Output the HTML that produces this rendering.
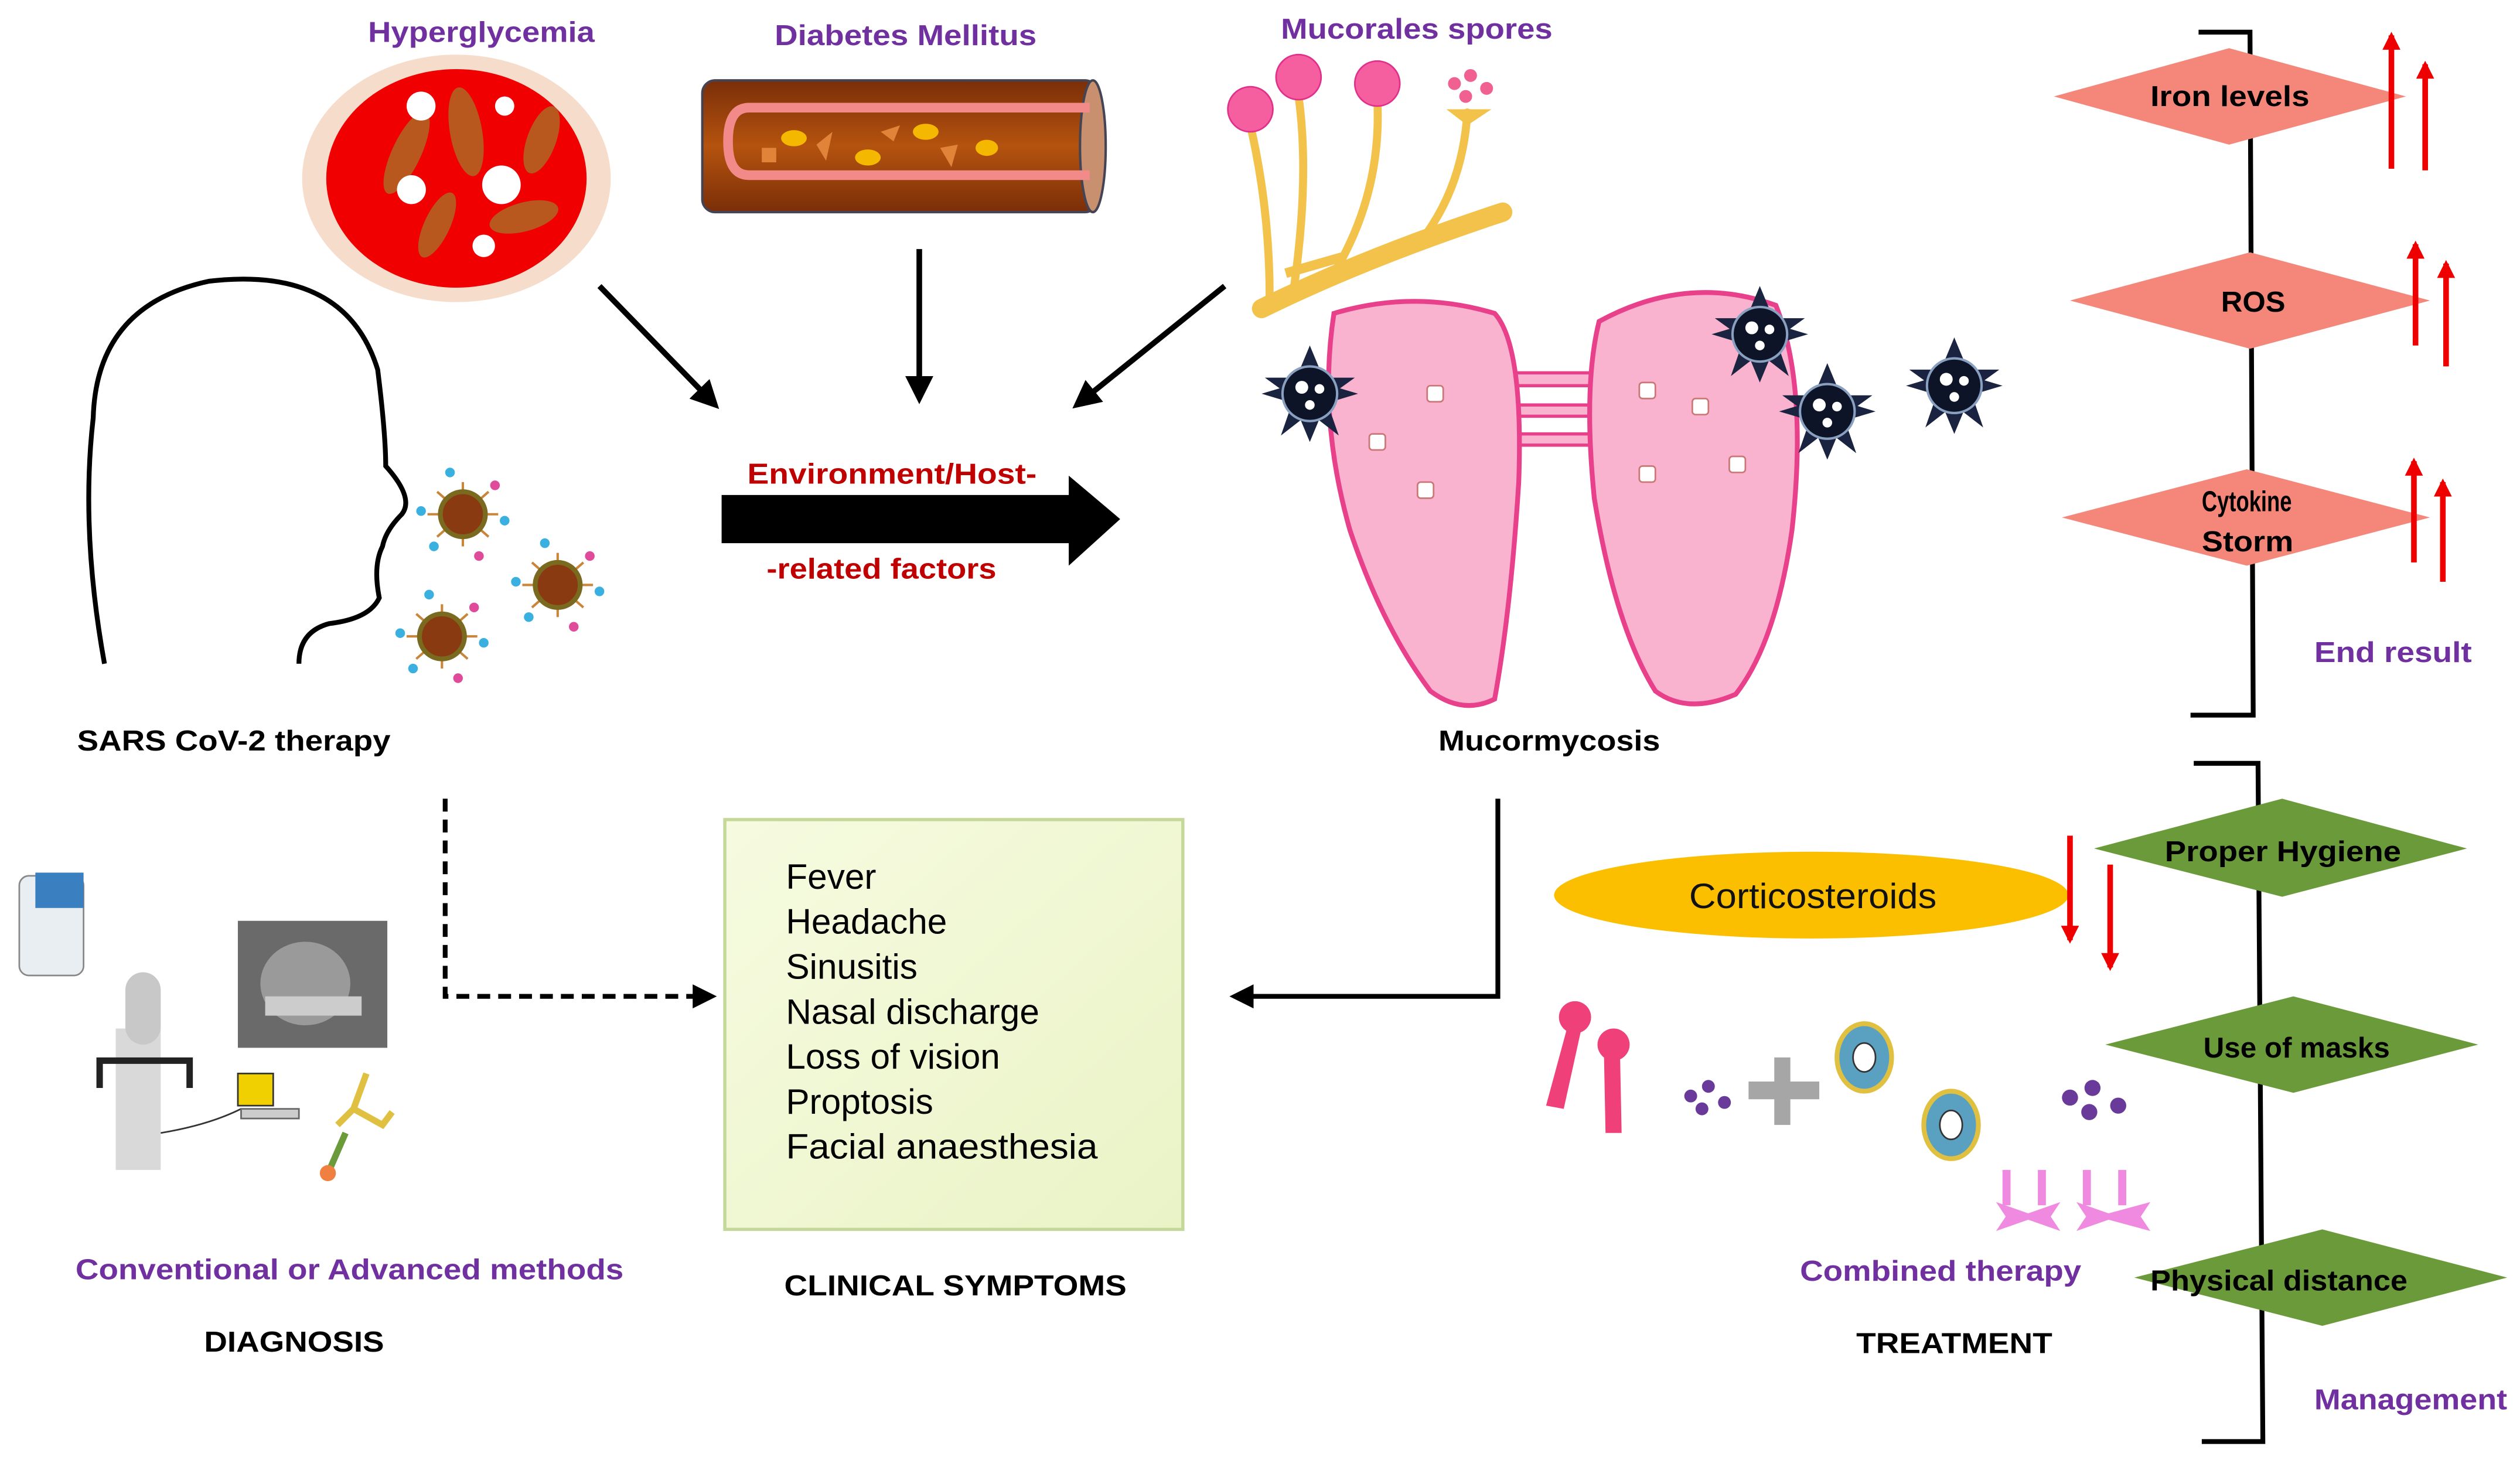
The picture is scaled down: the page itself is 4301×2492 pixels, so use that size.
<!DOCTYPE html>
<html><head><meta charset="utf-8"><style>
html,body{margin:0;padding:0;background:#fff;}
svg{display:block;}
text{font-family:"Liberation Sans",sans-serif;font-weight:bold;}
.n{font-weight:normal;}
</style></head><body>
<svg width="4301" height="2492" viewBox="0 0 1568 908.5" xmlns="http://www.w3.org/2000/svg">
<defs>
<marker id="ah" viewBox="0 0 10 10" refX="8" refY="5" markerWidth="5" markerHeight="5" orient="auto"><path d="M0,0 L10,5 L0,10 Z" fill="#000"/></marker>
<marker id="rh" viewBox="0 0 10 10" refX="8" refY="5" markerWidth="3.2" markerHeight="4" orient="auto"><path d="M0,0 L10,5 L0,10 Z" fill="#e00"/></marker>
<linearGradient id="ves" x1="0" y1="0" x2="0" y2="1"><stop offset="0" stop-color="#7a2e08"/><stop offset="0.5" stop-color="#b5530f"/><stop offset="1" stop-color="#7a2e08"/></linearGradient>
<linearGradient id="box" x1="0" y1="0" x2="1" y2="1"><stop offset="0" stop-color="#f6fbe0"/><stop offset="1" stop-color="#eaf3c6"/></linearGradient>
<g id="virus">
<g stroke="#c9853a" stroke-width="1.5">
<line x1="-22" y1="0" x2="22" y2="0"/><line x1="0" y1="-20" x2="0" y2="20"/><line x1="-16" y1="-14" x2="16" y2="14"/><line x1="-16" y1="14" x2="16" y2="-14"/>
</g>
<circle r="14" fill="#8a3a10" stroke="#7a6a20" stroke-width="3"/>
<circle cx="-26" cy="-2" r="3" fill="#3ab0e0"/><circle cx="26" cy="4" r="3" fill="#3ab0e0"/><circle cx="-8" cy="-26" r="3" fill="#3ab0e0"/><circle cx="10" cy="26" r="3" fill="#e04a9a"/><circle cx="20" cy="-18" r="3" fill="#e04a9a"/><circle cx="-18" cy="20" r="3" fill="#3ab0e0"/>
</g>
<g id="spore">
<path d="M0,-30 L6,-10 L28,-10 L10,3 L18,26 L0,12 L-18,26 L-10,3 L-28,-10 L-6,-10 Z" fill="#1a2340"/>
<path d="M-30,0 L-10,-6 L0,-30 L10,-6 L30,0 L10,6 L0,30 L-10,6 Z" fill="#1a2340"/>
<circle r="17" fill="#0e1428" stroke="#8aa0c0" stroke-width="1.5"/>
<circle cx="-5" cy="-4" r="4" fill="#fff"/><circle cx="6" cy="-3" r="3" fill="#fff"/><circle cx="0" cy="7" r="3" fill="#fff"/>
</g>
</defs>

<!-- Hyperglycemia -->
<text x="229" y="26" font-size="18" fill="#7030a0" textLength="141" lengthAdjust="spacingAndGlyphs">Hyperglycemia</text>
<ellipse cx="284" cy="111" rx="96" ry="77" fill="#f6dccb"/>
<ellipse cx="284" cy="111" rx="81" ry="68" fill="#f00000"/>
<g fill="#b8581e">
<ellipse cx="253" cy="95" rx="9" ry="28" transform="rotate(25 253 95)"/>
<ellipse cx="290" cy="82" rx="10" ry="28" transform="rotate(-10 290 82)"/>
<ellipse cx="337" cy="87" rx="9" ry="22" transform="rotate(20 337 87)"/>
<ellipse cx="272" cy="140" rx="8" ry="22" transform="rotate(25 272 140)"/>
<ellipse cx="326" cy="135" rx="22" ry="9" transform="rotate(-15 326 135)"/>
</g>
<g fill="#fff">
<circle cx="262" cy="66" r="9"/><circle cx="314" cy="66" r="6"/><circle cx="256" cy="118" r="9"/><circle cx="312" cy="115" r="12"/><circle cx="301" cy="153" r="7"/>
</g>

<!-- Diabetes -->
<text x="482" y="28" font-size="18" fill="#7030a0" textLength="163" lengthAdjust="spacingAndGlyphs">Diabetes Mellitus</text>
<rect x="437" y="50" width="246" height="82" rx="8" fill="url(#ves)" stroke="#445" stroke-width="1.5"/>
<ellipse cx="680" cy="91" rx="8" ry="41" fill="#c99070" stroke="#445" stroke-width="1.5"/>
<path d="M678,67 L466,67 Q453,67 453,88 Q453,109 466,109 L678,109" fill="none" stroke="#f38a8a" stroke-width="6"/>
<g fill="#f5b800"><ellipse cx="494" cy="86" rx="8" ry="5"/><ellipse cx="540" cy="98" rx="8" ry="5"/><ellipse cx="576" cy="82" rx="8" ry="5"/><ellipse cx="614" cy="92" rx="7" ry="5"/></g>
<g fill="#e2833a"><rect x="474" y="92" width="9" height="9"/><path d="M508,90 L518,82 L514,100 Z"/><path d="M548,82 L560,78 L556,88 Z"/><path d="M585,92 L596,90 L592,104 Z"/></g>

<!-- Mucorales spores -->
<text x="797" y="24" font-size="18" fill="#7030a0" textLength="169" lengthAdjust="spacingAndGlyphs">Mucorales spores</text>
<g fill="none" stroke="#f3c24a" stroke-width="5" stroke-linecap="round">
<path d="M790,185 Q790,130 778,78"/><path d="M805,180 Q815,110 808,60"/><path d="M830,170 Q860,120 857,62"/><path d="M880,155 Q910,120 913,70"/>
</g>
<path d="M785,192 Q850,160 935,132" stroke="#f3c24a" stroke-width="12" fill="none" stroke-linecap="round"/>
<path d="M800,170 L835,160" stroke="#f3c24a" stroke-width="6"/>
<g fill="#f55fa0" stroke="#e0308a"><circle cx="778" cy="68" r="14"/><circle cx="808" cy="48" r="14"/><circle cx="857" cy="52" r="14"/></g>
<g fill="#f06090"><circle cx="905" cy="52" r="4"/><circle cx="915" cy="47" r="4"/><circle cx="925" cy="55" r="4"/><circle cx="912" cy="60" r="4"/></g>
<path d="M900,68 L928,68 L913,78 Z" fill="#f3c24a"/>

<!-- arrows to env -->
<g stroke="#000" stroke-width="3.5" marker-end="url(#ah)">
<line x1="373" y1="178" x2="445" y2="252"/>
<line x1="572" y1="155" x2="572" y2="248"/>
<line x1="762" y1="178" x2="670" y2="252"/>
</g>
<text x="465" y="301" font-size="18" fill="#c00000" textLength="180" lengthAdjust="spacingAndGlyphs">Environment/Host-</text>
<path d="M449,308 L665,308 L665,296 L697,323 L665,352 L665,338 L449,338 Z" fill="#000"/>
<text x="477" y="360" font-size="18" fill="#c00000" textLength="143" lengthAdjust="spacingAndGlyphs">-related factors</text>

<!-- head -->
<path d="M65,413 Q50,330 58,260 Q60,190 130,175 Q215,165 235,230 Q240,270 240,290 Q258,310 250,320 Q240,330 238,340 Q232,352 236,372 Q230,385 205,388 Q186,393 186,413" fill="none" stroke="#000" stroke-width="3"/>
<use href="#virus" x="288" y="320"/>
<use href="#virus" x="347" y="364"/>
<use href="#virus" x="275" y="396"/>
<text x="48" y="467" font-size="18" fill="#000" textLength="195" lengthAdjust="spacingAndGlyphs">SARS CoV-2 therapy</text>

<!-- lungs -->
<rect x="940" y="232" width="52" height="8" fill="#f9b3cf" stroke="#e8408a" stroke-width="2"/>
<rect x="940" y="252" width="52" height="7" fill="#f9b3cf" stroke="#e8408a" stroke-width="2"/>
<rect x="940" y="270" width="52" height="7" fill="#f9b3cf" stroke="#e8408a" stroke-width="2"/>
<path d="M830,195 Q880,180 930,195 Q948,215 945,300 Q940,380 930,435 Q910,445 890,430 Q860,390 840,330 Q820,260 830,195 Z" fill="#f9b3cf" stroke="#e8408a" stroke-width="3"/>
<path d="M995,200 Q1050,170 1105,190 Q1125,240 1115,330 Q1105,400 1080,432 Q1050,445 1030,430 Q1005,390 992,310 Q985,240 995,200 Z" fill="#f9b3cf" stroke="#e8408a" stroke-width="3"/>
<g fill="#fff" stroke="#c77" stroke-width="1">
<rect x="888" y="240" width="10" height="10" rx="2"/><rect x="852" y="270" width="10" height="10" rx="2"/><rect x="882" y="300" width="10" height="10" rx="2"/>
<rect x="1020" y="238" width="10" height="10" rx="2"/><rect x="1053" y="248" width="10" height="10" rx="2"/><rect x="1020" y="290" width="10" height="10" rx="2"/><rect x="1076" y="284" width="10" height="10" rx="2"/>
</g>
<use href="#spore" x="815" y="245"/>
<use href="#spore" x="1095" y="208"/>
<use href="#spore" x="1137" y="256"/>
<use href="#spore" x="1216" y="240"/>
<text x="895" y="467" font-size="18" fill="#000" textLength="138" lengthAdjust="spacingAndGlyphs">Mucormycosis</text>

<!-- end result bracket -->
<path d="M1368,20 L1400,20 L1402,445 L1363,445" fill="none" stroke="#000" stroke-width="3"/>
<g fill="#f4877a">
<path d="M1278,60 L1387,30 L1497,60 L1387,90 Z"/>
<path d="M1288,187 L1400,157 L1512,187 L1400,217 Z"/>
<path d="M1283,322 L1398,292 L1512,322 L1398,352 Z"/>
</g>
<text x="1338" y="66" font-size="18" fill="#000" textLength="99" lengthAdjust="spacingAndGlyphs">Iron levels</text>
<text x="1382" y="194" font-size="18" fill="#000" textLength="40" lengthAdjust="spacingAndGlyphs">ROS</text>
<text x="1370" y="318" font-size="18" fill="#000" textLength="56" lengthAdjust="spacingAndGlyphs">Cytokine</text>
<text x="1370" y="343" font-size="18" fill="#000" textLength="57" lengthAdjust="spacingAndGlyphs">Storm</text>
<g stroke="#e00" stroke-width="3.5" marker-end="url(#rh)">
<line x1="1488" y1="105" x2="1488" y2="22"/><line x1="1509" y1="106" x2="1509" y2="40"/>
<line x1="1503" y1="215" x2="1503" y2="152"/><line x1="1522" y1="228" x2="1522" y2="164"/>
<line x1="1502" y1="350" x2="1502" y2="287"/><line x1="1520" y1="362" x2="1520" y2="300"/>
</g>
<text x="1440" y="412" font-size="18" fill="#7030a0" textLength="98" lengthAdjust="spacingAndGlyphs">End result</text>

<!-- management bracket -->
<path d="M1365,475 L1405,475 L1408,897 L1370,897" fill="none" stroke="#000" stroke-width="3"/>
<g fill="#6b9a3a">
<path d="M1303,528 L1420,497 L1535,528 L1420,558 Z"/>
<path d="M1310,650 L1427,620 L1542,650 L1427,680 Z"/>
<path d="M1328,795 L1445,765 L1560,795 L1445,825 Z"/>
</g>
<text x="1347" y="536" font-size="18" fill="#000" textLength="147" lengthAdjust="spacingAndGlyphs">Proper Hygiene</text>
<text x="1371" y="658" font-size="18" fill="#000" textLength="116" lengthAdjust="spacingAndGlyphs">Use of masks</text>
<text x="1338" y="803" font-size="18" fill="#000" textLength="160" lengthAdjust="spacingAndGlyphs">Physical distance</text>
<text x="1440" y="877" font-size="18" fill="#7030a0" textLength="120" lengthAdjust="spacingAndGlyphs">Management</text>

<!-- treatment -->
<ellipse cx="1127" cy="557" rx="160" ry="27" fill="#fbbf00"/>
<text x="1051" y="565" font-size="22" class="n" fill="#111" textLength="154" lengthAdjust="spacingAndGlyphs">Corticosteroids</text>
<g stroke="#e00" stroke-width="3.5" marker-end="url(#rh)">
<line x1="1288" y1="520" x2="1288" y2="585"/><line x1="1313" y1="538" x2="1313" y2="602"/>
</g>
<g fill="#f0407a">
<path d="M975,640 L984,640 L973,690 L962,688 Z"/><circle cx="980" cy="633" r="10"/>
<path d="M998,655 L1008,655 L1009,705 L999,705 Z"/><circle cx="1004" cy="650" r="10"/>
</g>
<g fill="#6a3a9a"><circle cx="1052" cy="682" r="4"/><circle cx="1063" cy="676" r="4"/><circle cx="1059" cy="690" r="4"/><circle cx="1073" cy="686" r="4"/>
<circle cx="1288" cy="683" r="5"/><circle cx="1302" cy="677" r="5"/><circle cx="1300" cy="692" r="5"/><circle cx="1318" cy="688" r="5"/></g>
<path d="M1088,673 L1104,673 L1104,658 L1114,658 L1114,673 L1132,673 L1132,684 L1114,684 L1114,700 L1104,700 L1104,684 L1088,684 Z" fill="#a6a6a6"/>
<ellipse cx="1160" cy="658" rx="17" ry="21" fill="#5aa0c0" stroke="#e0c040" stroke-width="3"/><ellipse cx="1160" cy="658" rx="7" ry="9" fill="#fff" stroke="#333"/>
<ellipse cx="1214" cy="700" rx="17" ry="21" fill="#5aa0c0" stroke="#e0c040" stroke-width="3"/><ellipse cx="1214" cy="700" rx="7" ry="9" fill="#fff" stroke="#333"/>
<g fill="#f08ae0">
<rect x="1246" y="728" width="5" height="22"/><rect x="1268" y="728" width="5" height="22"/><rect x="1296" y="728" width="5" height="22"/><rect x="1318" y="728" width="5" height="22"/>
<path d="M1242,748 L1262,755 L1282,748 L1276,757 L1282,766 L1262,759 L1242,766 L1248,757 Z"/>
<path d="M1292,748 L1312,755 L1338,748 L1332,757 L1338,766 L1312,759 L1292,766 L1298,757 Z"/>
</g>
<text x="1120" y="797" font-size="18" fill="#7030a0" textLength="175" lengthAdjust="spacingAndGlyphs">Combined therapy</text>
<text x="1155" y="842" font-size="18" fill="#000" textLength="122" lengthAdjust="spacingAndGlyphs">TREATMENT</text>

<!-- connectors to box -->
<path d="M932,497 L932,620 L768,620" fill="none" stroke="#000" stroke-width="3" marker-end="url(#ah)"/>
<path d="M277,497 L277,620 L443,620" fill="none" stroke="#000" stroke-width="3" stroke-dasharray="8,5" marker-end="url(#ah)"/>

<!-- clinical box -->
<rect x="451" y="510" width="285" height="255" fill="url(#box)" stroke="#c4d89a" stroke-width="2"/>
<g font-size="22" fill="#000">
<text x="489" y="553" class="n">Fever</text>
<text x="489" y="581" class="n">Headache</text>
<text x="489" y="609" class="n">Sinusitis</text>
<text x="489" y="637" class="n">Nasal discharge</text>
<text x="489" y="665" class="n">Loss of vision</text>
<text x="489" y="693" class="n">Proptosis</text>
<text x="489" y="721" class="n" textLength="194" lengthAdjust="spacingAndGlyphs">Facial anaesthesia</text>
</g>
<text x="488" y="806" font-size="18" fill="#000" textLength="213" lengthAdjust="spacingAndGlyphs">CLINICAL SYMPTOMS</text>

<!-- diagnosis -->
<rect x="12" y="545" width="40" height="62" rx="6" fill="#e8eef2" stroke="#888"/>
<rect x="22" y="543" width="30" height="22" fill="#3a80c0"/>
<rect x="148" y="573" width="93" height="79" fill="#6a6a6a"/>
<ellipse cx="190" cy="612" rx="28" ry="26" fill="#9a9a9a"/><rect x="165" y="620" width="60" height="12" fill="#ccc"/>
<rect x="72" y="640" width="28" height="88" fill="#d9d9d9"/>
<rect x="78" y="605" width="22" height="45" rx="11" fill="#c8c8c8"/>
<path d="M62,677 L62,660 L118,660 L118,677" fill="none" stroke="#222" stroke-width="4"/>
<path d="M100,705 Q130,700 150,690" fill="none" stroke="#333"/>
<rect x="148" y="668" width="22" height="20" fill="#f0d000" stroke="#333"/>
<rect x="150" y="690" width="36" height="6" fill="#ccc" stroke="#666"/>
<path d="M228,668 L220,690 L210,700 M220,690 L238,700 L244,692" fill="none" stroke="#e0c040" stroke-width="4"/>
<path d="M215,705 L205,728" stroke="#6a9a3a" stroke-width="4"/><circle cx="204" cy="730" r="5" fill="#f08040"/>
<text x="47" y="796" font-size="18" fill="#7030a0" textLength="341" lengthAdjust="spacingAndGlyphs">Conventional or Advanced methods</text>
<text x="127" y="841" font-size="18" fill="#000" textLength="112" lengthAdjust="spacingAndGlyphs">DIAGNOSIS</text>
</svg>
</body></html>
